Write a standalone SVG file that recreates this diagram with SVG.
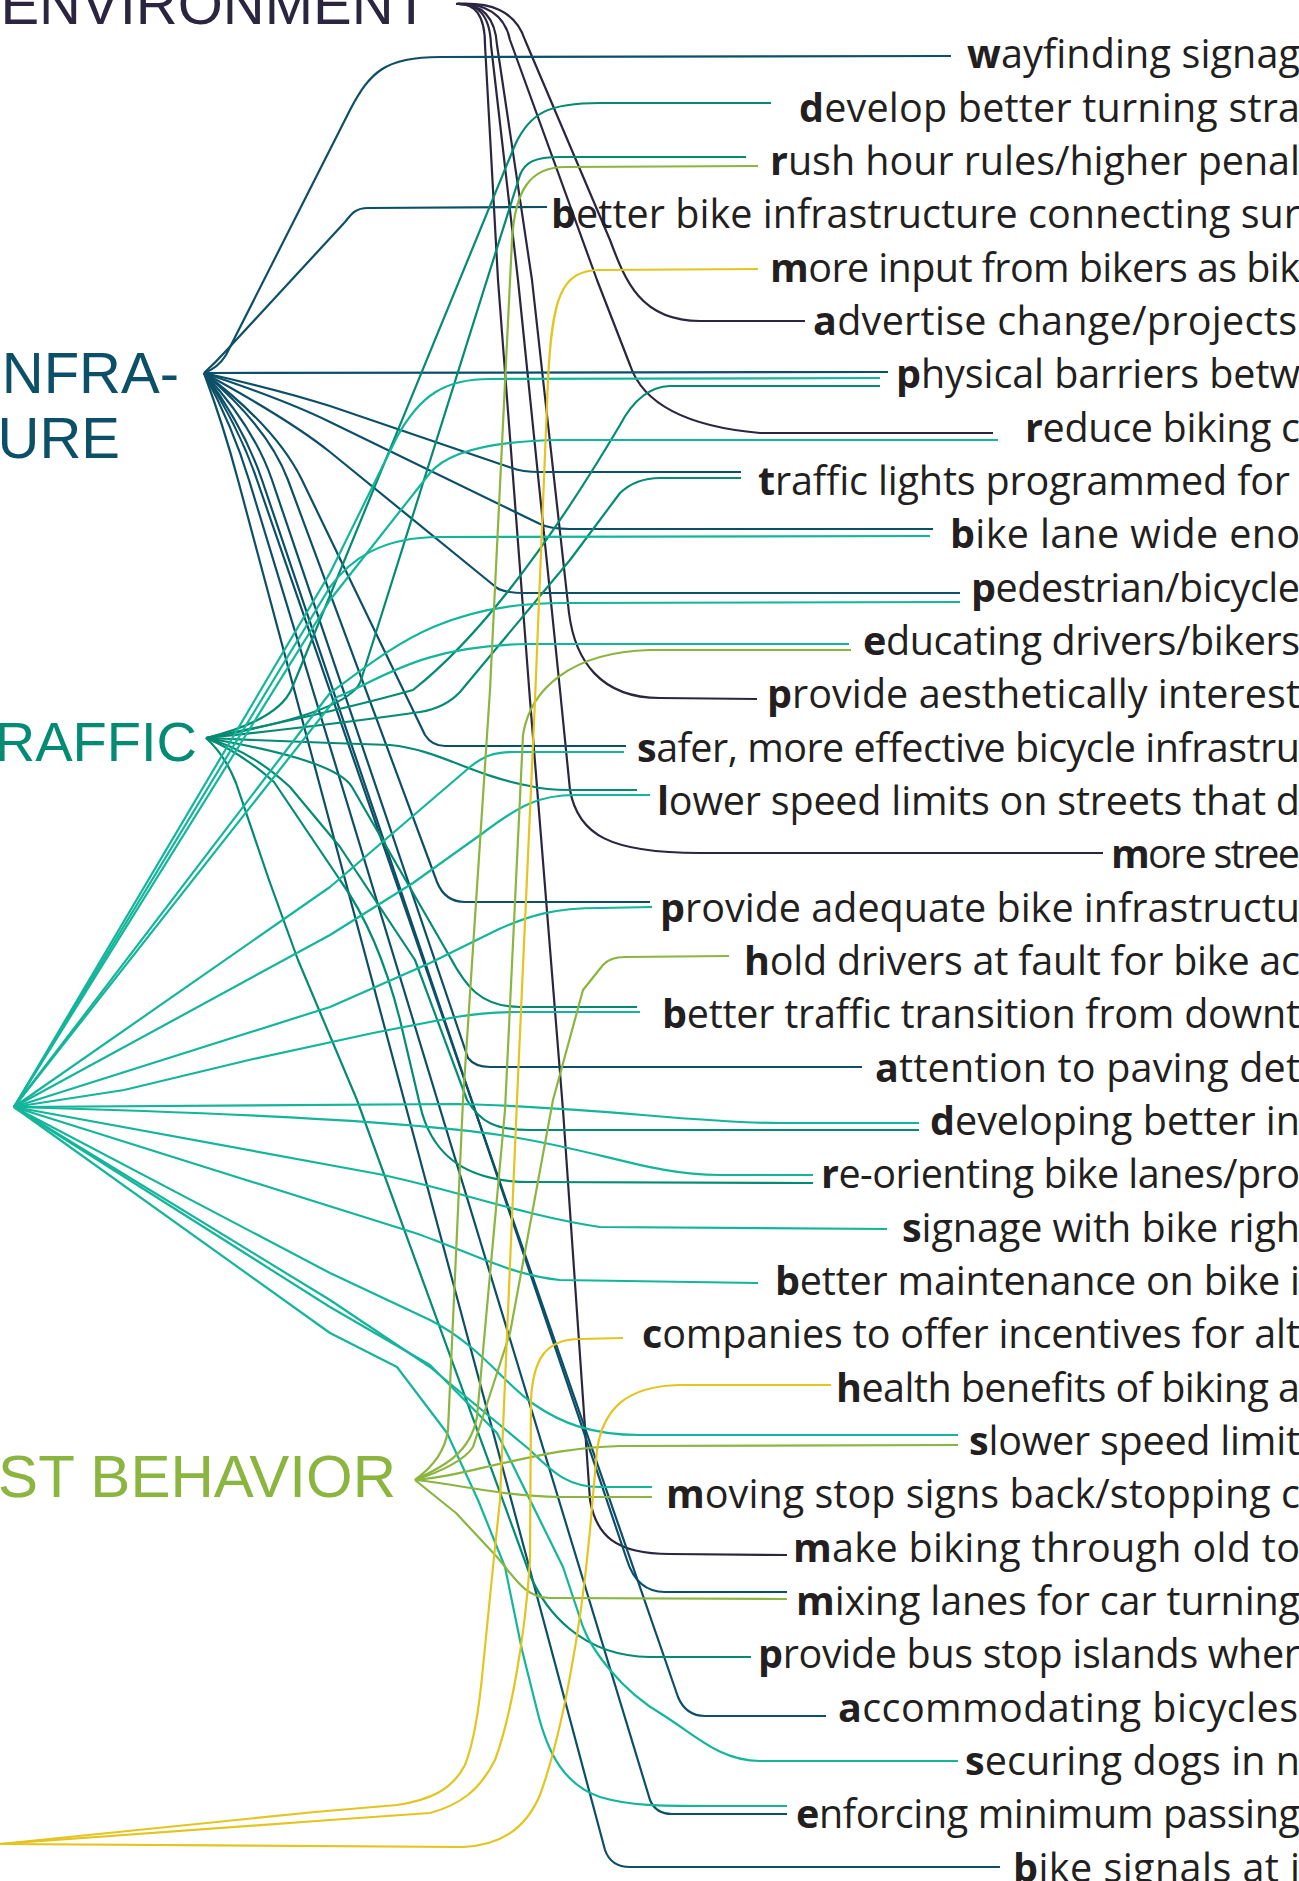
<svg xmlns="http://www.w3.org/2000/svg" width="1299" height="1881" viewBox="0 0 1299 1881">
<style>
.c{fill:none;stroke-width:2.2;stroke-linecap:butt;stroke-linejoin:round}
.env{stroke:#2b2540}.inf{stroke:#0c4f68}.trf{stroke:#048b73}.cyn{stroke:#13b59b}.grn{stroke:#8ab53f}.yel{stroke:#e4c41e}
.lbl{font-family:"Open Sans","Noto Sans",sans-serif;font-size:39.5px;fill:#231f20}
.b{font-weight:700}
.hub{font-family:"Liberation Sans",Arial,sans-serif;font-size:58px}
</style>
<rect width="1299" height="1881" fill="#ffffff"/>
<g id="connectors">
<g id="env-links" class="c env">
<path d="M456,4 C490,2 515,10 525,40 L610,240 C625,280 640,321 700,321 L805,321"/>
<path d="M456,4 C485,2 505,15 510,40 L597,280 L630,365 C640,395 670,425 760,433 L993,433"/>
<path d="M456,4 C480,3 495,15 497,45 L532,280 L569,613 C575,660 600,698 660,698 L757,699"/>
<path d="M456,4 C478,3 490,15 491,45 L518,280 L560,690 L570,790 C578,835 610,853 700,853 L1103,853"/>
<path d="M456,4 C475,3 485,15 485,45 L498,280 L530,700 L563,1110 L590,1500 C596,1535 615,1554 670,1554 L787,1555"/>
</g>
<g id="infra-links" class="c inf">
<path d="M204,373 Q218,368 226,355 L350,110 C370,72 385,57 440,57 L951,56"/>
<path d="M204,373 Q216,362 225,352 L345,222 C352,213 356,208 368,208 L547,207"/>
<path d="M204,373 L888,372"/>
<path d="M204,373 Q280,390 330,406 L512,468 Q522,472 540,472 L741,472"/>
<path d="M204,373 Q285,400 330,422 L540,524 Q550,529 570,529 L933,529"/>
<path d="M204,373 Q290,420 330,452 L497,588 Q505,593 525,593 L960,593"/>
<path d="M204,373 Q276,427 302,480 L425,735 Q432,746 445,746 L626,746"/>
<path d="M204,373 Q268,427 288,480 L437,882 Q445,902 465,902 L650,902"/>
<path d="M204,373 Q254,427 272,480 L468,1058 Q475,1067 490,1067 L862,1067"/>
<path d="M204,373 Q244,427 262,480 L627,1560 Q637,1592 665,1592 L787,1592"/>
<path d="M204,373 Q239,427 257,480 L678,1697 Q686,1716 705,1716 L826,1716"/>
<path d="M204,373 Q233,427 249,480 L650,1800 Q656,1814 672,1814 L787,1814"/>
<path d="M204,373 Q224,427 238,480 L605,1850 Q611,1867 630,1867 L1000,1867"/>
</g>
<g id="traffic-links" class="c trf">
<path d="M206,738 Q279,720 292,688 L515,145 C530,112 550,103 600,103 L771,103"/>
<path d="M206,738 Q352,712 361,680 L520,175 C525,162 535,157 560,157 L746,157"/>
<path d="M206,738 Q335,712 413,690 C470,645 540,560 620,425 Q640,387 670,386 L880,386"/>
<path d="M206,738 Q330,725 420,712 Q445,708 460,692 L570,560 L620,493 Q636,478 660,478 L741,478"/>
<path d="M206,738 Q300,742 390,745 C440,750 470,775 530,786 Q545,790 570,790 L637,790"/>
<path d="M206,738 Q336,760 352,787 L450,957 C465,985 480,1007 520,1007 L637,1007"/>
<path d="M206,738 Q250,750 290,787 L340,847 L415,960 L467,1100 C480,1122 495,1130 530,1130 L919,1130"/>
<path d="M206,738 Q240,752 274,782 L340,880 C365,915 385,960 400,1020 L420,1105 C430,1150 460,1182 530,1182 L813,1183"/>
<path d="M206,738 Q225,755 236,783 L269,880 L298,960 L357,1100 L530,1575 C545,1610 580,1656 650,1657 L751,1657"/>
</g>
<g id="cyan-links" class="c cyn">
<path d="M14,1107 L330,573 L397,437 C420,395 445,379 490,379 L880,378"/>
<path d="M14,1107 L330,600 L430,473 C445,455 480,441 560,440 L998,440"/>
<path d="M14,1107 L330,587 C350,560 380,537 440,537 L930,536"/>
<path d="M14,1107 L330,693 C390,650 440,603 563,603 L960,602"/>
<path d="M14,1107 L337,697 C380,680 420,645 530,644 L849,644"/>
<path d="M14,1107 L330,887 L470,767 C485,755 495,752 515,752 L624,752"/>
<path d="M14,1107 L330,935 L413,883 L483,833 C520,805 540,795 575,795 L650,795"/>
<path d="M14,1107 L330,1007 L430,963 L497,930 C530,915 555,908 600,908 L652,907"/>
<path d="M14,1107 L124,1090 L249,1060 L373,1033 L456,1017 C480,1013 500,1012 520,1012 L640,1012"/>
<path d="M14,1107 L456,1104 C600,1107 690,1123 780,1123 L919,1123"/>
<path d="M14,1107 C200,1112 400,1120 500,1135 C600,1150 650,1175 720,1175 L813,1175"/>
<path d="M14,1107 L373,1173 C450,1188 520,1215 600,1227 L887,1229"/>
<path d="M14,1107 L415,1233 C470,1252 510,1275 560,1280 L758,1283"/>
<path d="M14,1107 L330,1273 L430,1320 C480,1345 505,1385 535,1405 C560,1422 590,1435 640,1435 L958,1435"/>
<path d="M14,1107 L330,1300 L430,1367 L530,1450 C555,1475 570,1487 600,1487 L652,1487"/>
<path d="M14,1107 L330,1307 L430,1365 L497,1433 L530,1500 L563,1567 L583,1627 C592,1650 620,1690 663,1715 C695,1735 720,1761 760,1761 L958,1761"/>
<path d="M14,1107 L330,1333 L397,1367 L447,1433 L478,1500 L505,1567 L522,1650 L537,1710 C548,1755 565,1785 600,1797 C630,1806 660,1806 710,1806 L787,1806"/>
</g>
<g id="cyclist-links" class="c grn">
<path d="M415,1480 C435,1465 445,1450 448,1430 L463,1100 L490,690 L512,240 C515,190 530,167 565,167 L758,166"/>
<path d="M415,1480 C440,1468 470,1455 477,1417 L505,1110 L523,735 C530,690 570,652 650,650 L851,650"/>
<path d="M415,1480 C440,1472 465,1460 473,1447 L510,1333 L553,1100 L583,990 L603,965 Q610,957 625,957 L729,956"/>
<path d="M415,1480 C440,1478 460,1473 490,1466 C530,1458 560,1448 620,1446 L958,1445"/>
<path d="M415,1480 C450,1483 500,1496 560,1497 L652,1497"/>
<path d="M415,1480 L456,1513 L497,1557 C515,1578 525,1598 550,1598 L787,1599"/>
</g>
<g id="yellow-links" class="c yel">
<path d="M0,1844 L315,1812 L397,1805 C430,1800 452,1790 465,1765 C475,1740 480,1700 483,1667 L493,1567 L500,1500 L517,1100 L535,700 L548,380 C552,300 560,270 600,270 L758,269"/>
<path d="M0,1844 L330,1820 L430,1813 C460,1805 480,1790 495,1760 C510,1720 525,1640 530,1560 L531,1400 C533,1360 545,1339 580,1339 L623,1338"/>
<path d="M0,1844 L463,1847 C500,1845 525,1830 540,1795 C560,1740 580,1640 590,1530 L597,1450 C603,1410 625,1386 680,1385 L831,1385"/>
</g>
</g>
<g id="hub-environment"><text class="hub" x="429" y="24" text-anchor="end" fill="#2b2540">ENVIRONMENT</text></g>
<g id="hub-infrastructure"><text class="hub" x="179" y="393" text-anchor="end" fill="#0c4f68">INFRA-</text><text class="hub" x="120" y="458" text-anchor="end" fill="#0c4f68">STRUCTURE</text></g>
<g id="hub-traffic"><text class="hub" x="197" y="761" text-anchor="end" fill="#048b73" style="font-size:56px">TRAFFIC</text></g>
<g id="hub-cyclist"><text class="hub" x="396" y="1497" text-anchor="end" fill="#8ab53f" style="font-size:60px">CYCLIST BEHAVIOR</text></g>
<g id="labels" class="lbl">
<g id="n01"><text x="967" y="68.3" textLength="333" lengthAdjust="spacing"><tspan class="b">w</tspan>ayfinding signag</text></g>
<g id="n02"><text x="799" y="121.6" textLength="501" lengthAdjust="spacing"><tspan class="b">d</tspan>evelop better turning stra</text></g>
<g id="n03"><text x="770" y="175" textLength="530" lengthAdjust="spacing"><tspan class="b">r</tspan>ush hour rules/higher penal</text></g>
<g id="n04"><text x="551" y="228.3" textLength="749" lengthAdjust="spacing"><tspan class="b">b</tspan>etter bike infrastructure connecting sur</text></g>
<g id="n05"><text x="770" y="281.6" textLength="530" lengthAdjust="spacing"><tspan class="b">m</tspan>ore input from bikers as bik</text></g>
<g id="n06"><text x="813" y="335" textLength="484" lengthAdjust="spacing"><tspan class="b">a</tspan>dvertise change/projects</text></g>
<g id="n07"><text x="896" y="388.3" textLength="404" lengthAdjust="spacing"><tspan class="b">p</tspan>hysical barriers betw</text></g>
<g id="n08"><text x="1025" y="441.6" textLength="275" lengthAdjust="spacing"><tspan class="b">r</tspan>educe biking c</text></g>
<g id="n09"><text x="758" y="494.9" textLength="532" lengthAdjust="spacing"><tspan class="b">t</tspan>raffic lights programmed for</text></g>
<g id="n10"><text x="950" y="548.3" textLength="350" lengthAdjust="spacing"><tspan class="b">b</tspan>ike lane wide eno</text></g>
<g id="n11"><text x="971" y="601.6" textLength="329" lengthAdjust="spacing"><tspan class="b">p</tspan>edestrian/bicycle</text></g>
<g id="n12"><text x="863" y="654.9" textLength="437" lengthAdjust="spacing"><tspan class="b">e</tspan>ducating drivers/bikers</text></g>
<g id="n13"><text x="767" y="708.3" textLength="533" lengthAdjust="spacing"><tspan class="b">p</tspan>rovide aesthetically interest</text></g>
<g id="n14"><text x="637" y="761.6" textLength="663" lengthAdjust="spacing"><tspan class="b">s</tspan>afer, more effective bicycle infrastru</text></g>
<g id="n15"><text x="657" y="814.9" textLength="643" lengthAdjust="spacing"><tspan class="b">l</tspan>ower speed limits on streets that d</text></g>
<g id="n16"><text x="1111" y="868.2" textLength="189" lengthAdjust="spacing"><tspan class="b">m</tspan>ore stree</text></g>
<g id="n17"><text x="660" y="921.6" textLength="640" lengthAdjust="spacing"><tspan class="b">p</tspan>rovide adequate bike infrastructu</text></g>
<g id="n18"><text x="744" y="974.9" textLength="556" lengthAdjust="spacing"><tspan class="b">h</tspan>old drivers at fault for bike ac</text></g>
<g id="n19"><text x="662" y="1028.2" textLength="638" lengthAdjust="spacing"><tspan class="b">b</tspan>etter traffic transition from downt</text></g>
<g id="n20"><text x="875" y="1081.6" textLength="425" lengthAdjust="spacing"><tspan class="b">a</tspan>ttention to paving det</text></g>
<g id="n21"><text x="930" y="1134.9" textLength="370" lengthAdjust="spacing"><tspan class="b">d</tspan>eveloping better in</text></g>
<g id="n22"><text x="821" y="1188.2" textLength="479" lengthAdjust="spacing"><tspan class="b">r</tspan>e-orienting bike lanes/pro</text></g>
<g id="n23"><text x="902" y="1241.5" textLength="398" lengthAdjust="spacing"><tspan class="b">s</tspan>ignage with bike righ</text></g>
<g id="n24"><text x="775" y="1294.9" textLength="525" lengthAdjust="spacing"><tspan class="b">b</tspan>etter maintenance on bike i</text></g>
<g id="n25"><text x="642" y="1348.2" textLength="658" lengthAdjust="spacing"><tspan class="b">c</tspan>ompanies to offer incentives for alt</text></g>
<g id="n26"><text x="836" y="1401.5" textLength="464" lengthAdjust="spacing"><tspan class="b">h</tspan>ealth benefits of biking a</text></g>
<g id="n27"><text x="969" y="1454.9" textLength="331" lengthAdjust="spacing"><tspan class="b">s</tspan>lower speed limit</text></g>
<g id="n28"><text x="666" y="1508.2" textLength="634" lengthAdjust="spacing"><tspan class="b">m</tspan>oving stop signs back/stopping c</text></g>
<g id="n29"><text x="793" y="1561.5" textLength="507" lengthAdjust="spacing"><tspan class="b">m</tspan>ake biking through old to</text></g>
<g id="n30"><text x="796" y="1614.8" textLength="504" lengthAdjust="spacing"><tspan class="b">m</tspan>ixing lanes for car turning</text></g>
<g id="n31"><text x="758" y="1668.2" textLength="542" lengthAdjust="spacing"><tspan class="b">p</tspan>rovide bus stop islands wher</text></g>
<g id="n32"><text x="838" y="1721.5" textLength="460" lengthAdjust="spacing"><tspan class="b">a</tspan>ccommodating bicycles</text></g>
<g id="n33"><text x="965" y="1774.8" textLength="335" lengthAdjust="spacing"><tspan class="b">s</tspan>ecuring dogs in n</text></g>
<g id="n34"><text x="796" y="1828.2" textLength="504" lengthAdjust="spacing"><tspan class="b">e</tspan>nforcing minimum passing</text></g>
<g id="n35"><text x="1013" y="1881.5" textLength="287" lengthAdjust="spacing"><tspan class="b">b</tspan>ike signals at i</text></g>
</g>
</svg>
